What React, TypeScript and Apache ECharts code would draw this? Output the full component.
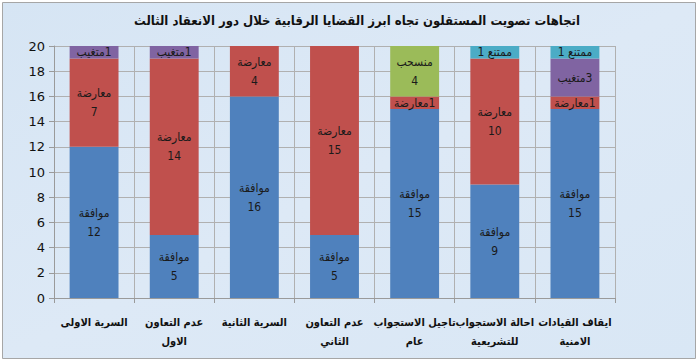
import React, { useEffect, useRef } from "react";
import * as echarts from "echarts";

const title = "اتجاهات تصويت المستقلون تجاه ابرز القضايا الرقابية خلال دور الانعقاد الثالث";
const categories = [
  "السرية الاولى",
  "عدم التعاون\nالاول",
  "السرية الثانية",
  "عدم التعاون\nالثاني",
  "تاجيل الاستجواب\nعام",
  "احالة الاستجواب\nللتشريعية",
  "ايقاف القيادات\nالامنية",
];
const approve = [12, 5, 16, 5, 15, 9, 15];
const oppose = [7, 14, 4, 15, 1, 10, 1];
const withdrawn = [null, null, null, null, 4, null, null];
const absent = [1, 1, null, null, null, null, 3];
const abstain = [null, null, null, null, null, 1, 1];

const seriesDefs = [
  { name: "موافقة", data: approve, color: "#4f81bd" },
  { name: "معارضة", data: oppose, color: "#c0504d" },
  { name: "منسحب", data: withdrawn, color: "#9bbb59" },
  { name: "متغيب", data: absent, color: "#8064a2" },
  { name: "ممتنع", data: abstain, color: "#4bacc6" },
];

export default function App() {
  const ref = useRef<HTMLDivElement>(null);
  useEffect(() => {
    if (!ref.current) return;
    const chart = echarts.init(ref.current, null, { renderer: "svg" });
    const font = "'DejaVu Sans', 'Liberation Sans', sans-serif";
    const condensed = "'DejaVu Sans Condensed', 'DejaVu Sans', sans-serif";
    const fmt = (p: any) => {
      const v = p.value;
      const n = p.seriesName;
      if (v == null) return "";
      if (n === "ممتنع") return `${v} ${n}`;
      if (v <= 1 || (n === "متغيب" && v <= 3)) return `\u200F${v}${n}`;
      return `${n}\n${v}`;
    };
    chart.setOption({
      animation: false,
      backgroundColor: "#ffffff",
      graphic: [
        {
          type: "rect",
          z: -10,
          silent: true,
          shape: { x: 2.5, y: 2.5, width: 693, height: 356 },
          style: {
            fill: {
              type: "linear",
              x: 0,
              y: 0,
              x2: 1,
              y2: 1,
              colorStops: [
                { offset: 0, color: "#d6e5f4" },
                { offset: 0.5, color: "#dde9f6" },
                { offset: 1, color: "#d9e7f5" },
              ],
            },
            stroke: "#a6a6a6",
            lineWidth: 1,
          },
        },
      ],
      title: {
        text: title,
        left: 352,
        textAlign: "center",
        top: 9,
        textStyle: { fontFamily: condensed, fontSize: 13, fontWeight: "bold", color: "#111" },
      },
      grid: { left: 54, right: 84, top: 46, bottom: 65, containLabel: false },
      xAxis: {
        type: "category",
        data: categories,
        axisLine: { show: true, lineStyle: { color: "#9a9a9a" } },
        axisTick: { show: true, length: 5, lineStyle: { color: "#9a9a9a" } },
        splitLine: { show: true, lineStyle: { color: "#b0b0b0" } },
        axisLabel: {
          interval: 0,
          fontFamily: condensed,
          fontSize: 11,
          fontWeight: "bold",
          color: "#111",
          lineHeight: 19,
          margin: 15,
        },
      },
      yAxis: {
        type: "value",
        min: 0,
        max: 20,
        interval: 2,
        axisLine: { show: true, lineStyle: { color: "#9a9a9a" } },
        axisTick: { show: true, length: 5, lineStyle: { color: "#9a9a9a" } },
        splitLine: { show: true, lineStyle: { color: "#b0b0b0" } },
        axisLabel: { fontFamily: font, fontSize: 13, color: "#111", margin: 9 },
      },
      series: seriesDefs.map((s) => ({
        name: s.name,
        type: "bar",
        stack: "total",
        data: s.data,
        barCategoryGap: "39%",
        itemStyle: { color: s.color },
        label: {
          show: true,
          position: "inside",
          formatter: fmt,
          fontFamily: condensed,
          fontSize: 12,
          color: "#1a1a1a",
          lineHeight: 19,
        },
      })),
    });
    return () => chart.dispose();
  }, []);
  return (
    <div
      ref={ref}
      style={{ position: "absolute", left: 0, top: 0, width: 699, height: 363 }}
    />
  );
}
